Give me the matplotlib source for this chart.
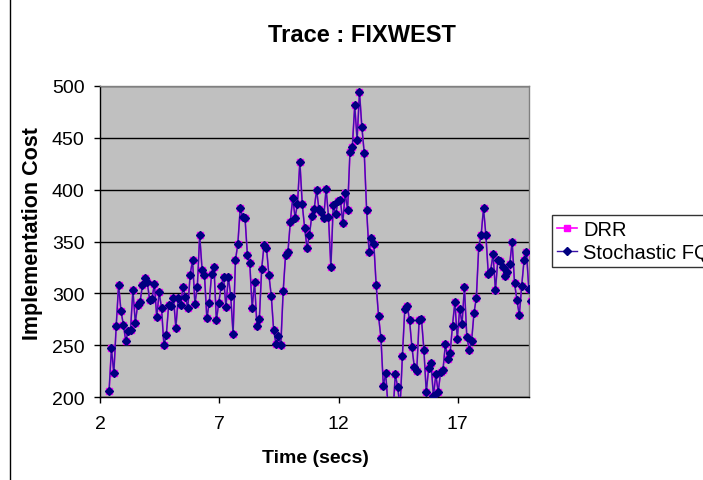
import numpy as np
import matplotlib.pyplot as plt
from matplotlib.lines import Line2D

plt.rcParams['font.family'] = ['Liberation Sans', 'DejaVu Sans']

# Sampling of the trace (secs)
t_start = 2.38
t_step = 0.1

# Implementation cost per sample
drr = [206, 247, 223, 269, 308, 283, 270, 254, 264, 265,
       303, 272, 289, 292, 308, 315, 311, 294, 295, 309,
       277, 301, 286, 250, 260, 289, 288, 296, 267, 296,
       289, 306, 297, 286, 318, 332, 290, 306, 356, 323,
       318, 276, 291, 319, 325, 274, 291, 307, 316, 287,
       316, 298, 261, 332, 348, 382, 374, 373, 337, 329,
       286, 311, 269, 275, 324, 347, 344, 318, 298, 265,
       251, 259, 250, 302, 337, 340, 369, 392, 373, 386,
       427, 386, 363, 344, 356, 375, 381, 400, 381, 378,
       373, 401, 374, 325, 385, 376, 389, 390, 368, 397,
       380, 436, 441, 481, 448, 494, 460, 435, 380, 340,
       353, 348, 308, 278, 257, 211, 223, 190, 176, 182,
       222, 210, 190, 240, 285, 288, 274, 248, 229, 225,
       274, 275, 246, 205, 228, 233, 201, 222, 205, 224,
       226, 251, 237, 243, 269, 292, 256, 285, 271, 306,
       258, 246, 254, 281, 296, 345, 356, 382, 356, 319,
       322, 338, 303, 332, 331, 325, 317, 321, 328, 350,
       310, 294, 279, 307, 332, 340, 304, 293]

# The stochastic fair queueing trace coincides with DRR sample for sample
stochastic_fq = list(drr)

times = t_start + t_step * np.arange(len(drr))

y_ticks = [200, 250, 300, 350, 400, 450, 500]
x_ticks = [2, 7, 12, 17]

drr_style = dict(color='#FF00FF', lw=1.2, marker='s', ms=4.5,
                 mfc='#FF00FF', mec='#FF00FF')
sfq_style = dict(color='#3A12A8', lw=1.0, marker='D', ms=3.8,
                 mfc='#000080', mec='#000080')

fig = plt.figure(figsize=(7.03, 4.81), dpi=100)
ax = fig.add_axes([100 / 703, 1 - 398.3 / 481, 429.3 / 703, 311.6 / 481])
ax.set_facecolor('#C0C0C0')

ax.plot(times, drr, zorder=3, **drr_style)
ax.plot(times, stochastic_fq, zorder=4, **sfq_style)

ax.set_xlim(2, 20)
ax.set_ylim(200, 500)
ax.set_xticks(x_ticks)
ax.set_yticks(y_ticks)
ax.grid(axis='y', color='black', lw=1.0)
ax.set_axisbelow(True)

for side in ['left', 'bottom']:
    ax.spines[side].set_color('black')
    ax.spines[side].set_linewidth(1.0)
for side in ['top', 'right']:
    ax.spines[side].set_color('#808080')
    ax.spines[side].set_linewidth(1.0)

ax.tick_params(axis='both', direction='out', length=4, width=1,
               labelsize=14, colors='black')
ax.tick_params(axis='x', pad=9)
ax.tick_params(axis='y', pad=7)

fig.text(361.5 / 703, 1 - 35 / 481, 'Trace : FIXWEST', ha='center',
         va='center', fontsize=17, fontweight='bold')
fig.text(315 / 703, 1 - 459 / 481, 'Time (secs)', ha='center',
         va='center', fontsize=14, fontweight='bold')
fig.text(33 / 703, 1 - 234 / 481, 'Implementation Cost', ha='center',
         va='center', rotation=90, fontsize=15.5, fontweight='bold')

# chart area frame on the left side
fig.add_artist(Line2D([10 / 703, 10 / 703], [0, 1], color='black', lw=1.0))

handles = [Line2D([], [], **drr_style), Line2D([], [], **sfq_style)]
leg = fig.legend(handles, ['DRR', 'Stochastic FQ'], loc='upper left',
                 bbox_to_anchor=(552 / 703, 1 - 216 / 481), borderaxespad=0,
                 fontsize=14.5, frameon=True, fancybox=False,
                 handlelength=1.0, handletextpad=0.3, borderpad=0.25,
                 labelspacing=0.2)
leg.get_frame().set_edgecolor('black')
leg.get_frame().set_linewidth(1.0)

fig.savefig('out.png', dpi=100)
